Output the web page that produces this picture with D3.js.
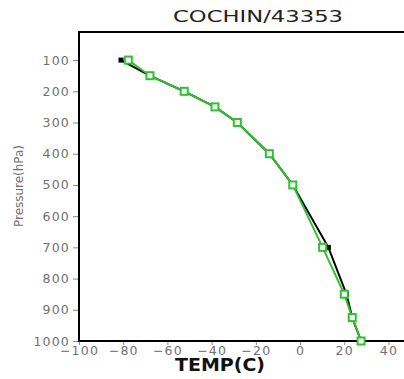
<!DOCTYPE html>
<html><head><meta charset="utf-8">
<script src="https://cdn.jsdelivr.net/npm/d3@7"></script>
<style>body{margin:0;background:#fff}svg{display:block}</style>
</head><body>
<script>
const title = "COCHIN/43353";
const xLabel = "TEMP(C)";
const yLabel = "Pressure(hPa)";
const xTicks = [-100, -80, -60, -40, -20, 0, 20, 40];
const yTicks = [100, 200, 300, 400, 500, 600, 700, 800, 900, 1000];
// black series (observed)
const blackP = [100, 150, 200, 250, 300, 400, 500, 700, 850, 925, 1000];
const blackT = [-81, -68, -52.4, -38.5, -28.4, -13.9, -3.3, 12.8, 21, 23.6, 27.6];
// green series
const greenP = [100, 150, 200, 250, 300, 400, 500, 700, 850, 925, 1000];
const greenT = [-77.7, -67.9, -52.4, -38.5, -28.4, -13.9, -3.3, 10.2, 20.0, 23.6, 27.6];

const W = 404, H = 379;
const svg = d3.select("body").append("svg").attr("width", W).attr("height", H);
const x = d3.scaleLinear().domain([-100, 50]).range([79, 410.6]);
const y = d3.scaleLinear().domain([10, 1000]).range([32, 341]);

// axes
const gx = svg.append("g").attr("transform", "translate(0,341)")
  .call(d3.axisBottom(x).tickValues(xTicks).tickSize(4).tickPadding(1).tickFormat(d3.format("d")));
const gy = svg.append("g").attr("transform", "translate(79,0)")
  .call(d3.axisLeft(y).tickValues(yTicks).tickSize(6).tickPadding(3).tickFormat(d3.format("d")));
[gx, gy].forEach(g => {
  g.select(".domain").remove();
  g.selectAll(".tick line").attr("stroke", "#888").attr("stroke-width", 1);
  g.selectAll(".tick text").attr("fill", "#707070")
    .style("font-family", "DejaVu Sans").style("font-size", "12.5px").style("letter-spacing", "1.2px");
});
gx.selectAll(".tick text").attr("dy", "0.75em");

// frame
svg.append("path").attr("d", `M${x(50)},32H79V341H${x(50)}`)
  .attr("fill", "none").attr("stroke", "#000").attr("stroke-width", 2);

const line = d3.line().x(d => x(d[0])).y(d => y(d[1]));
const blackData = blackT.map((t, i) => [t, blackP[i]]);
const greenData = greenT.map((t, i) => [t, greenP[i]]);

svg.append("path").datum(blackData).attr("d", line)
  .attr("fill", "none").attr("stroke", "#000").attr("stroke-width", 2);
svg.selectAll(".bm").data(blackData).enter().append("rect")
  .attr("x", d => x(d[0]) - 2.5).attr("y", d => y(d[1]) - 2.5)
  .attr("width", 5).attr("height", 5).attr("fill", "#000");

const green = "#30c030";
svg.append("path").datum(greenData).attr("d", line)
  .attr("fill", "none").attr("stroke", green).attr("stroke-width", 2);
svg.selectAll(".gm").data(greenData).enter().append("rect")
  .attr("x", d => x(d[0]) - 3.5).attr("y", d => y(d[1]) - 3.5)
  .attr("width", 7).attr("height", 7).attr("fill", "#fff")
  .attr("stroke", green).attr("stroke-width", 2);

// texts
svg.append("text").attr("x", 258).attr("y", 22).attr("text-anchor", "middle")
  .attr("textLength", 170).attr("lengthAdjust", "spacingAndGlyphs")
  .style("font-family", "DejaVu Sans").style("font-size", "15px").attr("fill", "#222").text(title);
svg.append("text").attr("x", 220).attr("y", 371).attr("text-anchor", "middle")
  .attr("textLength", 90).attr("lengthAdjust", "spacingAndGlyphs")
  .style("font-family", "DejaVu Sans").style("font-weight", "bold").style("font-size", "18px")
  .attr("fill", "#111").text(xLabel);
svg.append("text").attr("transform", "translate(23,186) rotate(-90)").attr("text-anchor", "middle")
  .attr("textLength", 82).attr("lengthAdjust", "spacingAndGlyphs")
  .style("font-family", "DejaVu Sans").style("font-size", "12px").attr("fill", "#707070").text(yLabel);
</script>
</body></html>
